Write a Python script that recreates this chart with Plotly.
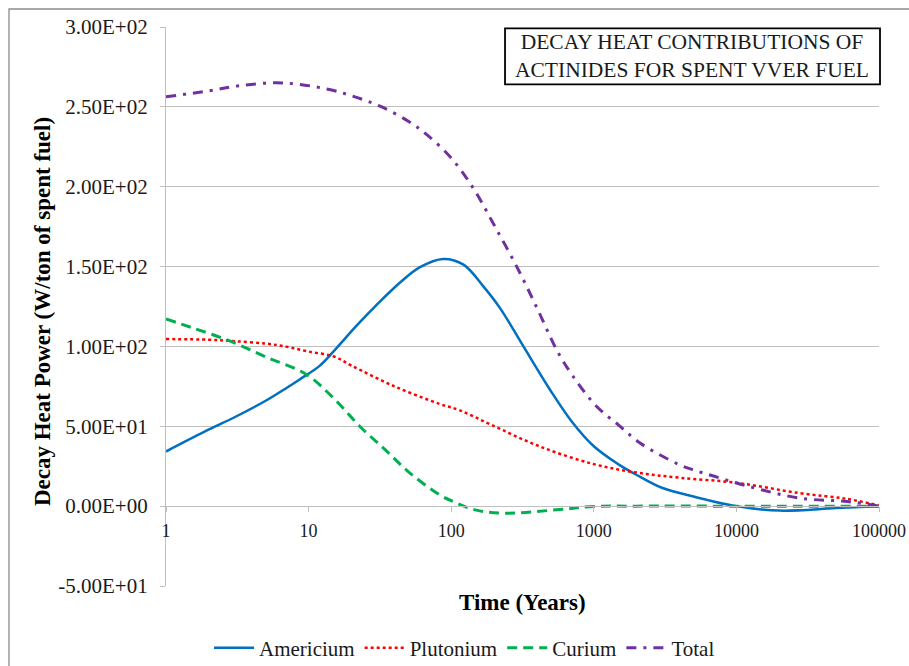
import plotly.graph_objects as go

# Time after discharge (years) and decay heat (W/ton of spent fuel)
am_years = [1, 2, 3, 5, 7, 8.7, 12, 15.7, 21.7, 30, 43.8, 60, 88, 122, 168, 220, 321,
            493, 700, 1000, 1500, 2000, 3000, 5000, 10000, 20000, 50000, 100000]
am_heat = [34.2, 48, 55.5, 66, 74, 79.5, 88, 99, 113, 126, 140, 149.5, 154.8, 151.2,
           137.6, 124, 100, 72.9, 53, 37.5, 26, 19.5, 11.5, 6, 0, -2.8, -1.2, 0]

pu_years = [1, 2, 3, 5, 7, 10, 15, 20, 40, 83, 115, 190, 420, 1000, 2000, 4000, 10000,
            28000, 60000, 100000]
pu_heat = [104.6, 104.2, 103.3, 101.8, 99.8, 96.8, 93.7, 88, 75, 64, 60, 51, 37.3, 26.3,
           21, 17.8, 14.6, 8.1, 4.5, 0.4]

cm_years = [1, 1.5, 2.66, 5, 9.7, 15, 22.9, 35, 51.4, 83, 107, 150, 245, 548, 1000, 2000,
            10000, 100000]
cm_heat = [117.2, 111.9, 104.2, 93.5, 82.3, 67.5, 49.9, 34.7, 20.7, 7.1, 2.3, -2.5, -4.4,
           -2.3, -0.2, 0, 0, 0]

tot_years = [1, 2, 3.3, 6.5, 13.4, 20.6, 31.7, 50, 67.4, 100, 143, 200, 288, 400, 548,
             700, 1048, 1500, 2110, 3990, 4990, 7000, 11800, 27900, 60000, 100000]
tot_heat = [256.3, 260, 263.3, 265, 261.2, 256.6, 250.4, 241, 232.6, 218, 199, 176, 150,
            124, 98, 82.5, 62.4, 50.6, 39.5, 25.9, 22.7, 18.7, 12.7, 5, 2.9, 0]

x_ticks = [1, 10, 100, 1000, 10000, 100000]
x_tick_labels = ["1", "10", "100", "1000", "10000", "100000"]
y_ticks = [-50, 0, 50, 100, 150, 200, 250, 300]
y_tick_labels = ["%.2E" % v if v != 0 else "0.00E+00" for v in y_ticks]

FONT = "Liberation Serif"
GRID = "#BFBFBF"
TEXT = "#1a1a1a"
SMOOTH = 1.0

fig = go.Figure()
fig.add_trace(go.Scatter(x=am_years, y=am_heat, name="Americium", mode="lines",
                         line=dict(color="#0070C0", width=2.5, shape="spline", smoothing=SMOOTH)))
fig.add_trace(go.Scatter(x=pu_years, y=pu_heat, name="Plutonium", mode="lines",
                         line=dict(color="#FF0000", width=2.5, dash="3px,3px",
                                   shape="spline", smoothing=SMOOTH)))
fig.add_trace(go.Scatter(x=cm_years, y=cm_heat, name="Curium", mode="lines",
                         line=dict(color="#00B050", width=3, dash="10px,6px",
                                   shape="spline", smoothing=SMOOTH)))
fig.add_trace(go.Scatter(x=tot_years, y=tot_heat, name="Total", mode="lines",
                         line=dict(color="#7030A0", width=3, dash="10px,7px,3px,7px",
                                   shape="spline", smoothing=SMOOTH)))

y_lo, y_hi = y_ticks[0], y_ticks[-1]

fig.update_layout(
    width=909, height=666,
    margin=dict(l=166, r=30, t=27, b=80, autoexpand=False),
    paper_bgcolor="white", plot_bgcolor="white",
    font=dict(family=FONT, color=TEXT),
    showlegend=True,
    legend=dict(orientation="h", x=0.4187, xanchor="center", itemwidth=40,
                y=-0.111, yanchor="middle", font=dict(size=21, family=FONT, color=TEXT),
                bgcolor="rgba(0,0,0,0)"),
    xaxis=dict(type="log", range=[0, 5], anchor="free",
               position=(0 - y_lo) / (y_hi - y_lo),
               tickvals=x_ticks, ticktext=x_tick_labels, tickangle=0,
               tickfont=dict(size=18, family=FONT, color=TEXT),
               showgrid=False, zeroline=False,
               showline=True, linecolor=GRID, linewidth=1.3,
               ticks="outside", ticklen=5, tickcolor=GRID, tickwidth=1.3,
               ticklabelstandoff=3),
    yaxis=dict(range=[y_lo, y_hi], tickvals=y_ticks, ticktext=y_tick_labels,
               tickfont=dict(size=21, family=FONT, color=TEXT),
               showgrid=True, gridcolor=GRID, gridwidth=1.3, zeroline=False,
               showline=True, linecolor=GRID, linewidth=1.3,
               ticks="outside", ticklen=5, tickcolor=GRID, tickwidth=1.3,
               ticklabelstandoff=8),
)

# outer chart frame
fig.add_shape(type="rect", xref="paper", yref="paper",
              x0=-0.2202, x1=1.2, y0=-0.3, y1=1.0322,
              line=dict(color="#8c8c8c", width=1.3), fillcolor="rgba(0,0,0,0)", layer="below")

# title box
fig.add_shape(type="rect", xref="paper", yref="paper",
              x0=0.4755, x1=1.0014, y0=0.8975, y1=0.9977,
              line=dict(color="black", width=1.8), fillcolor="white", layer="above")
fig.add_annotation(xref="paper", yref="paper", x=0.7377, y=0.9476,
                   text="DECAY HEAT CONTRIBUTIONS OF<br>ACTINIDES FOR SPENT VVER FUEL",
                   showarrow=False, xanchor="center", yanchor="middle",
                   font=dict(size=21.5, family=FONT, color=TEXT))

# axis titles
fig.add_annotation(xref="paper", yref="paper", x=0.5, y=-0.030,
                   text="<b>Time (Years)</b>", showarrow=False,
                   xanchor="center", yanchor="middle",
                   font=dict(size=23, family=FONT, color="black"))
fig.add_annotation(xref="paper", yref="paper", x=-0.1739, y=0.49,
                   text="<b>Decay Heat Power (W/ton of spent fuel)</b>", showarrow=False,
                   textangle=-90, xanchor="center", yanchor="middle",
                   font=dict(size=23, family=FONT, color="black"))

fig.write_html("out.html")
